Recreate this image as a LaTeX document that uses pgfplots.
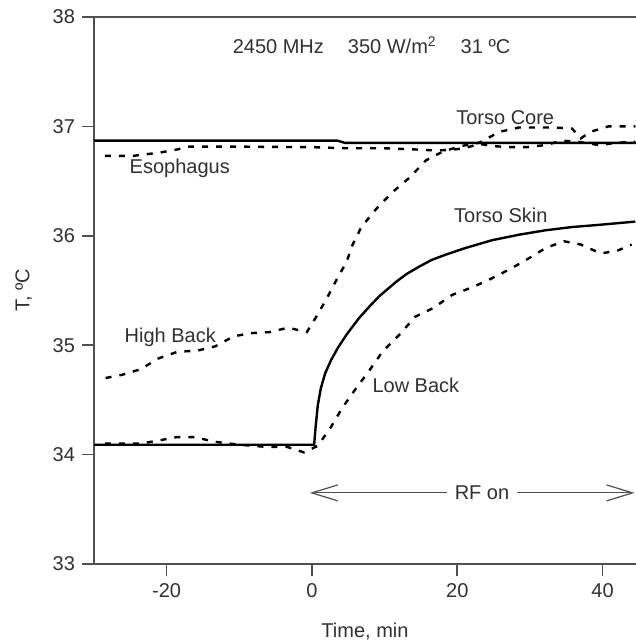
\documentclass[border=0pt]{standalone}
\usepackage{fontspec}
\setmainfont{Liberation Sans}
\usepackage{pgfplots}
\pgfplotsset{compat=1.18}
\usetikzlibrary{arrows.meta}
\definecolor{axgray}{HTML}{505050}
\definecolor{txtgray}{HTML}{303030}

\begin{document}
\fontsize{10bp}{12bp}\selectfont
\begin{tikzpicture}
    \begin{axis}[
        name=ax,
        scale only axis,
        width=271bp, height=273.5bp,
        xmin=-30, xmax=44.6,
        ymin=33, ymax=38,
        axis x line*=box,
        axis y line*=left,
        xtick pos=bottom,
        xtick={-20,0,20,40},
        ytick={33,34,35,36,37,38},
        tick align=outside,
        major tick length=6bp,
        axis line style={axgray, line width=0.8bp},
        every tick/.style={axgray, line width=0.8bp},
        tick label style={font=\fontsize{10bp}{12bp}\selectfont, text=txtgray},
        /pgf/number format/assume math mode=true,
        xlabel={Time, min},
        ylabel={T, ºC},
        label style={font=\fontsize{10bp}{12bp}\selectfont, text=txtgray},
        xlabel style={yshift=-6bp},
        ylabel style={yshift=3.5bp},
        clip=true,
    ]
    % Torso Core (solid)
    \addplot[black, line width=1.2bp] coordinates {
        (-30,36.87) (3.5,36.87) (4.5,36.85) (44.6,36.85)};
    % Esophagus (dashed)
    \addplot[black, line width=1.2bp, dash pattern=on 3bp off 4bp] coordinates {
        (-28.5,36.73) (-24.7,36.73) (-21,36.76) (-18.5,36.79) (-17,36.815)
        (-10,36.815) (0,36.81) (5,36.80) (10,36.80) (14,36.79) (17,36.78)
        (19,36.785) (21,36.80) (23,36.84) (25,36.82) (27.1,36.81) (29.5,36.81)
        (32.2,36.83) (34.4,36.87) (36.5,36.86) (39.5,36.83) (41.9,36.85) (44.5,36.86)};
    % High Back (dashed)
    \addplot[black, line width=1.2bp, dash pattern=on 3bp off 4bp] coordinates {
        (-28.4,34.70) (-26.1,34.73) (-23.6,34.78) (-21.1,34.88) (-18.5,34.94)
        (-15.8,34.95) (-13.3,34.99) (-10.8,35.08) (-8.5,35.11) (-5.8,35.12)
        (-3.3,35.16) (-0.7,35.12) (0.5,35.25) (1.9,35.41) (3.4,35.60)
        (4.75,35.76) (5.6,35.92) (6.8,36.08) (8.9,36.25) (11.1,36.40)
        (13.4,36.53) (15.7,36.69) (18.0,36.77) (20.5,36.82) (23.0,36.85)
        (25.8,36.95) (28.5,36.99) (31.0,36.99) (33.3,36.99) (35.8,36.98)
        (37.0,36.89) (38.3,36.95) (40.8,37.00) (44.5,37.00)};
    % Torso Skin (solid)
    \addplot[black, line width=1.2bp] coordinates {
        (-30,34.09) (0.3,34.09) (0.5,34.25) (0.8,34.45) (1.2,34.60)
        (1.8,34.74) (2.6,34.86) (3.6,34.98) (4.8,35.10) (6.5,35.25)
        (8.0,35.36) (9.3,35.45) (11.6,35.58) (13.0,35.65) (14.8,35.72)
        (16.5,35.78) (18.5,35.83) (21.2,35.89) (24.8,35.96) (28.5,36.01)
        (32.1,36.05) (35.8,36.08) (39.5,36.10) (44.5,36.13)};
    % Low Back (dashed)
    \addplot[black, line width=1.2bp, dash pattern=on 3bp off 4bp] coordinates {
        (-28.5,34.10) (-25.9,34.10) (-23.6,34.10) (-21.0,34.13) (-18.6,34.16)
        (-16.0,34.16) (-13.7,34.12) (-10,34.09) (-6.2,34.07) (-3.4,34.07)
        (-1.1,34.02) (0.8,34.08) (2.6,34.25) (4.2,34.43) (5.9,34.59)
        (7.8,34.76) (9.7,34.94) (12.1,35.10) (14.2,35.26) (16.7,35.34)
        (19.3,35.46) (22.1,35.53) (24.4,35.60) (27.1,35.69) (29.5,35.78)
        (32.2,35.89) (34.7,35.95) (37.0,35.92) (39.7,35.84) (41.9,35.86)
        (44.0,35.92)};

    \node[text=txtgray] at (axis cs:8.2,37.74) {2450 MHz\hspace{1.2em}350 W/m\textsuperscript{2}\hspace{1.2em}31 ºC};
    \node[text=txtgray] at (axis cs:26.6,37.08) {Torso Core};
    \node[text=txtgray] at (axis cs:-18.2,36.62) {Esophagus};
    \node[text=txtgray] at (axis cs:26.0,36.19) {Torso Skin};
    \node[text=txtgray] at (axis cs:-19.5,35.07) {High Back};
    \node[text=txtgray] at (axis cs:14.3,34.63) {Low Back};

    \draw[axgray, line width=0.6bp, {Straight Barb[length=13bp,width=8bp]}-{Straight Barb[length=13bp,width=8bp]}]
        (axis cs:-0.3,33.65) -- (axis cs:44.4,33.65);
    \node[fill=white, text=txtgray, inner xsep=4bp] at (axis cs:23.4,33.65) {RF on};
    \end{axis}
    \pgfresetboundingbox
    \path[use as bounding box] (-47bp,-40bp) rectangle (271bp,282bp);
\end{tikzpicture}
\end{document}
